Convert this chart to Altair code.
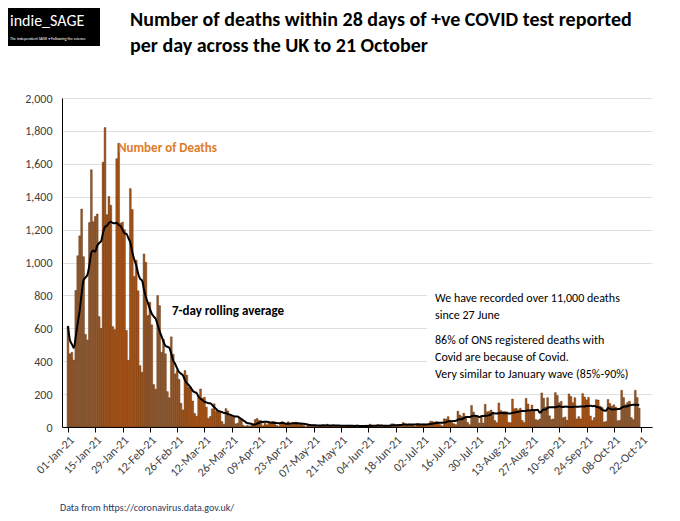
import pandas as pd
import altair as alt

jan = [613, 445, 454, 407, 830, 1041, 1162, 1325, 1035, 563, 529, 1243, 1564, 1248, 1280, 1295,
       671, 599, 1610, 1820, 1290, 1401, 1348, 610, 592, 1631, 1725, 1239, 1245, 1200, 587]
feb = [406, 1449, 1322, 915, 1014, 828, 373, 333, 1052, 1001, 678, 758, 621, 258, 230, 799, 738,
       454, 533, 445, 215, 178, 548, 442, 323, 345, 290, 144]
mar = [104, 343, 315, 242, 236, 158, 82, 65, 190, 231, 175, 181, 121, 52, 64, 110, 141, 95, 101,
       96, 33, 17, 112, 98, 70, 70, 58, 19, 23, 56, 43]
apr = [10, 4, 10, 5, 9, 20, 45, 52, 40, 40, 7, 23, 13, 33, 30, 34, 32, 10, 4, 22, 33, 22, 18, 32,
       12, 17, 27, 29, 22, 15]
may = [15, 9, 1, 12, 14, 13, 11, 12, 2, 4, 11, 15, 11, 17, 5, 4, 7, 9, 6, 11, 10, 8, 1, 7, 11, 6,
       6, 8, 10, 2, 1]
jun = [9, 2, 12, 10, 17, 6, 2, 5, 14, 7, 11, 10, 6, 1, 9, 19, 19, 11, 14, 10, 4, 27, 19, 14, 18,
       14, 13, 3, 22, 20]
jul = [15, 18, 18, 15, 9, 35, 33, 29, 34, 26, 14, 6, 50, 48, 63, 41, 28, 19, 14, 96, 73, 63, 84,
       65, 28, 14, 131, 91, 68, 68, 24]
aug = [65, 24, 138, 92, 94, 103, 86, 39, 26, 146, 100, 93, 94, 92, 28, 26, 170, 111, 113, 104,
       114, 40, 27, 174, 140, 100, 133, 100, 45, 40, 48]
sep = [207, 175, 121, 178, 68, 45, 49, 209, 191, 147, 156, 56, 61, 41, 201, 185, 148, 178, 49, 63,
       49, 203, 182, 165, 180, 67, 40, 57, 166, 164]
oct_ = [127, 119, 30, 33, 167, 143, 126, 135, 121, 38, 40, 223, 179, 136, 148, 157, 57, 45, 223,
        179, 115]

deaths = jan + feb + mar + apr + may + jun + jul + aug + sep + oct_
dates = pd.date_range("2021-01-01", periods=len(deaths), freq="D").strftime("%Y-%m-%dT00:00:00")
df = pd.DataFrame({"date": dates, "deaths": deaths})

tick_dates = pd.date_range("2021-01-01", "2021-10-22", freq="14D")
ticks = [alt.DateTime(year=d.year, month=d.month, date=d.day) for d in tick_dates]

font = "Calibri, Carlito, 'Open Sans', sans-serif"
W, H = 590, 329

x = alt.X("date:T", title=None,
          scale=alt.Scale(domain=["2020-12-31T12:00:00", "2021-10-25T00:00:00"]),
          axis=alt.Axis(values=ticks, format="%d-%b-%y", labelAngle=-45, labelFontSize=12,
                        labelColor="#404040", tickColor="#000", domainColor="#000", grid=False,
                        labelFont=font, tickSize=5, labelOverlap=False))
yscale = alt.Scale(domain=[0, 2000])
yaxis = alt.Axis(values=list(range(0, 2001, 200)), format=",.0f", labelFontSize=12,
                 labelColor="#404040", labelFont=font, gridColor="#e0e0e0",
                 domainColor="#000", ticks=False, labelOverlap=False, labelPadding=10)

bars = alt.Chart(df).mark_bar(color="#a9561a", stroke="#4a2508", strokeWidth=0.4, width=1.8).encode(
    x=x, y=alt.Y("deaths:Q", title=None, scale=yscale, axis=yaxis))

avg = alt.Chart(df).transform_window(
    avg="mean(deaths)", frame=[-6, 0], sort=[{"field": "date"}]
).mark_line(color="black", strokeWidth=2, interpolate="monotone").encode(
    x=x, y=alt.Y("avg:Q", title=None, scale=yscale, axis=yaxis))


def txt(s, px, py, size=13, color="black", weight="normal", align="left"):
    return alt.Chart(df.head(1)).mark_text(
        text=s, fontSize=size, color=color, fontWeight=weight, align=align, font=font, baseline="middle"
    ).encode(x=alt.value(px), y=alt.value(py))


box = alt.Chart(df.head(1)).mark_rect(color="white").encode(
    x=alt.value(365), x2=alt.value(590), y=alt.value(188), y2=alt.value(282))
logo = alt.Chart(df.head(1)).mark_rect(color="black").encode(
    x=alt.value(-56), x2=alt.value(38), y=alt.value(-90), y2=alt.value(-52))

layers = [bars, avg, box, logo,
          txt("indie_SAGE", -52, -77, 16, "white"),
          txt("The independent SAGE • Following the science", -52, -59, 4, "white"),
          txt("Number of deaths within 28 days of +ve COVID test reported", 68, -78, 20, "black", "bold"),
          txt("per day across the UK to 21 October", 68, -52, 20, "black", "bold"),
          txt("Number of Deaths", 56, 50, 13, "#e07b28", "bold"),
          txt("7-day rolling average", 110, 213, 13, "black", "bold"),
          txt("We have recorded over 11,000 deaths", 373, 200, 12),
          txt("since 27 June", 373, 217, 12),
          txt("86% of ONS registered deaths with", 373, 242, 12),
          txt("Covid are because of Covid.", 373, 259, 12),
          txt("Very similar to January wave (85%-90%)", 373, 276, 12),
          txt("Data from  https://coronavirus.data.gov.uk/", -2, 410, 10, "#1f3864")]

chart = alt.layer(*layers).properties(
    width=W, height=H, autosize="none",
    padding={"left": 54, "top": 90, "right": 20, "bottom": 86},
    background="white"
).configure_view(stroke=None)

chart.save("out.html", embed_options={"renderer": "svg", "actions": False})
